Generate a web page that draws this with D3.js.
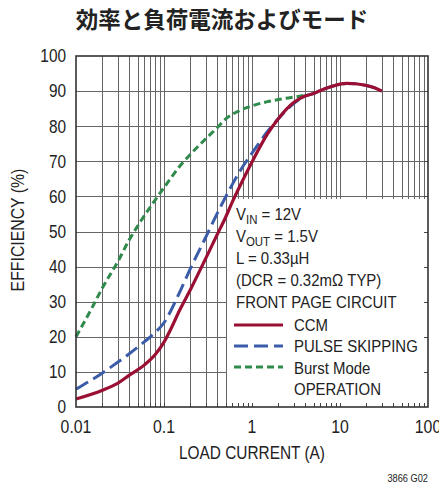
<!DOCTYPE html>
<html>
<head>
<meta charset="utf-8">
<script src="https://cdn.jsdelivr.net/npm/d3@7"></script>
<style>
  html, body { margin: 0; padding: 0; background: #fff; overflow: hidden; }
  svg { display: block; }
  .cond { font-family: "Liberation Sans", Arial, sans-serif; fill: #222; }
</style>
</head>
<body>
<svg id="chart" width="439" height="484"></svg>
<script>
// Efficiency (%) versus load current (A) for each operating mode
const ccmCurrent   = [0.01, 0.02, 0.03, 0.04, 0.06, 0.08, 0.1, 0.12, 0.15, 0.2, 0.3, 0.4, 0.5, 0.6, 0.8, 1, 1.5, 2, 3, 4, 5, 6, 8, 10, 12, 15, 20, 25, 30];
const ccmEff       = [2.3, 4.8, 6.8, 9.0, 12.0, 15.0, 18.5, 22.3, 27.5, 33.5, 42.5, 49.0, 54.0, 58.5, 65.0, 69.8, 77.8, 82.2, 86.8, 88.6, 89.3, 90.2, 91.3, 92.0, 92.2, 92.1, 91.6, 90.9, 90.0];

const skipCurrent  = [0.01, 0.02, 0.03, 0.04, 0.06, 0.08, 0.1, 0.12, 0.15, 0.2, 0.3, 0.4, 0.5, 0.6, 0.8, 1, 1.5, 2, 3, 4, 5, 6, 8, 10, 12, 15, 20, 25, 30];
const skipEff      = [5.1, 9.7, 12.8, 15.1, 18.6, 21.3, 24.0, 27.5, 32.6, 39.5, 48.5, 55.0, 59.8, 63.5, 68.8, 72.3, 78.5, 82.2, 86.5, 88.6, 89.3, 90.2, 91.3, 92.0, 92.2, 92.1, 91.6, 90.9, 90.0];

const burstCurrent = [0.01, 0.015, 0.02, 0.03, 0.04, 0.05, 0.07, 0.1, 0.15, 0.2, 0.3, 0.4, 0.5, 0.7, 1, 1.5, 2, 3, 4];
const burstEff     = [20.0, 28.0, 34.0, 41.5, 47.5, 51.5, 57.0, 62.5, 68.5, 72.0, 76.5, 79.5, 82.0, 84.3, 85.8, 87.0, 87.6, 88.3, 88.8];

const xTickValues  = [0.01, 0.1, 1, 10, 100];
const xTickLabels  = ["0.01", "0.1", "1", "10", "100"];
const yTickValues  = [0, 10, 20, 30, 40, 50, 60, 70, 80, 90, 100];

const legendLabels = ["CCM", "PULSE SKIPPING", "Burst Mode", "OPERATION"];

const svg = d3.select("#chart");
const plot = { left: 76, right: 428, top: 56, bottom: 407 };

const x = d3.scaleLog().domain([0.01, 100]).range([plot.left, plot.right]);
const y = d3.scaleLinear().domain([0, 100]).range([plot.bottom, plot.top]);

// Condensed sans text: regular face squeezed horizontally
const SQUEEZE = 0.88;
function label(parent, px, py, str, size, anchor, rotate) {
  const t = parent.append("text")
    .attr("class", "cond")
    .attr("transform", `translate(${px},${py})` + (rotate ? ` rotate(${rotate})` : "") + ` scale(${SQUEEZE},1)`)
    .attr("text-anchor", anchor || "start")
    .style("font-size", size + "px");
  if (str !== null) t.text(str);
  return t;
}

// Title
svg.append("text")
  .attr("x", 222).attr("y", 28)
  .attr("text-anchor", "middle")
  .style("font-family", '"Noto Sans CJK JP", "Noto Sans CJK SC", sans-serif')
  .style("font-weight", "700")
  .style("font-size", "22.5px")
  .style("fill", "#222")
  .text("効率と負荷電流およびモード");

// Minor positions across every decade
const minorX = [];
for (let d = -2; d < 2; d++) {
  for (let m = 1; m <= 9; m++) {
    const v = m * Math.pow(10, d);
    if (v > 0.01) minorX.push(v);
  }
}

const grid = svg.append("g").attr("stroke", "#666").attr("stroke-width", 1).attr("shape-rendering", "crispEdges");
grid.selectAll("line.v").data(minorX).join("line")
  .attr("x1", d => Math.round(x(d)) + 0.5).attr("x2", d => Math.round(x(d)) + 0.5)
  .attr("y1", plot.top).attr("y2", plot.bottom);
grid.selectAll("line.h").data(yTickValues.slice(1, -1)).join("line")
  .attr("y1", d => Math.round(y(d)) + 0.5).attr("y2", d => Math.round(y(d)) + 0.5)
  .attr("x1", plot.left).attr("x2", plot.right);

// White panel behind the legend
svg.append("rect")
  .attr("x", 227).attr("y", 199)
  .attr("width", plot.right - 227).attr("height", plot.bottom - 199)
  .attr("fill", "#fff");

// Inward border ticks
const ticks = svg.append("g").attr("stroke", "#444").attr("stroke-width", 1).attr("shape-rendering", "crispEdges");
ticks.selectAll("line.b").data(minorX).join("line")
  .attr("x1", d => Math.round(x(d)) + 0.5).attr("x2", d => Math.round(x(d)) + 0.5)
  .attr("y1", plot.bottom).attr("y2", plot.bottom - 4);
ticks.selectAll("line.r").data(yTickValues.slice(1, -1)).join("line")
  .attr("y1", d => Math.round(y(d)) + 0.5).attr("y2", d => Math.round(y(d)) + 0.5)
  .attr("x1", plot.right).attr("x2", plot.right - 4);

// Curves
const line = d3.line()
  .x(d => x(d[0]))
  .y(d => y(d[1]))
  .curve(d3.curveMonotoneX);

const zip = (a, b) => a.map((v, i) => [v, b[i]]);

svg.append("path")
  .datum(zip(burstCurrent, burstEff))
  .attr("d", line)
  .attr("fill", "none")
  .attr("stroke", "#2f8a4c")
  .attr("stroke-width", 3)
  .attr("stroke-dasharray", "7,4");

svg.append("path")
  .datum(zip(skipCurrent, skipEff))
  .attr("d", line)
  .attr("fill", "none")
  .attr("stroke", "#3b5ca8")
  .attr("stroke-width", 3)
  .attr("stroke-dasharray", "14,6");

svg.append("path")
  .datum(zip(ccmCurrent, ccmEff))
  .attr("d", line)
  .attr("fill", "none")
  .attr("stroke", "#9a0f33")
  .attr("stroke-width", 3.2);

// Frame
svg.append("rect")
  .attr("x", plot.left).attr("y", plot.top)
  .attr("width", plot.right - plot.left).attr("height", plot.bottom - plot.top)
  .attr("fill", "none").attr("stroke", "#333").attr("stroke-width", 1.6);

// Axis labels
const yLab = svg.append("g");
yTickValues.forEach(v => {
  label(yLab, 66, y(v) + 6.3, String(v), 17.5, "end");
});

const xLab = svg.append("g");
xTickValues.forEach((v, i) => {
  label(xLab, x(v), 433, xTickLabels[i], 18, "middle");
});

label(svg, 252, 459, "LOAD CURRENT (A)", 17.5, "middle");
label(svg, 24, 230, "EFFICIENCY (%)", 18, "middle", -90);
label(svg, 428, 482, "3866 G02", 10.5, "end");

// Conditions block
const cond = svg.append("g");
const c1 = label(cond, 236, 220, null, 17);
c1.append("tspan").text("V");
c1.append("tspan").attr("dy", 4).style("font-size", "13px").text("IN");
c1.append("tspan").attr("dy", -4).text(" = 12V");
const c2 = label(cond, 236, 242, null, 17);
c2.append("tspan").text("V");
c2.append("tspan").attr("dy", 4).style("font-size", "13px").text("OUT");
c2.append("tspan").attr("dy", -4).text(" = 1.5V");
label(cond, 236, 264, "L = 0.33µH", 17);
label(cond, 236, 286, "(DCR = 0.32mΩ TYP)", 17);
label(cond, 236, 308, "FRONT PAGE CIRCUIT", 17);

// Legend
const legendStyles = [
  { color: "#9a0f33", dash: null, y: 325 },
  { color: "#3b5ca8", dash: "14,6", y: 346 },
  { color: "#2f8a4c", dash: "7,4", y: 367 }
];
const leg = svg.append("g");
leg.selectAll("line").data(legendStyles).join("line")
  .attr("x1", 234).attr("x2", 283)
  .attr("y1", d => d.y).attr("y2", d => d.y)
  .attr("stroke", d => d.color)
  .attr("stroke-width", 3)
  .attr("stroke-dasharray", d => d.dash);
const legText = svg.append("g");
[331, 352, 374, 395].forEach((yy, i) => {
  label(legText, 294, yy, legendLabels[i], 17);
});
</script>
</body>
</html>
